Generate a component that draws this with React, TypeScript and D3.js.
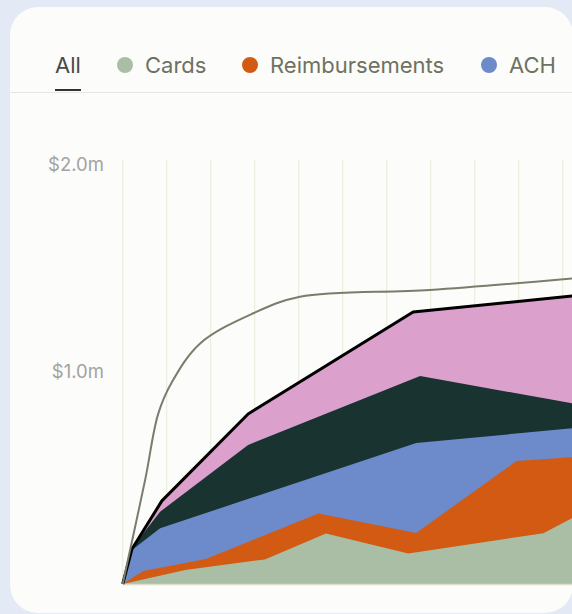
import React from 'react';
import * as d3 from 'd3';

// legend entries visible in the header
const legendNames = ['Cards', 'Reimbursements', 'ACH'];
const legendColors = ['#a9bea4', '#d35a13', '#6d8acb'];

// cumulative tops for each layer, [t, $m]
const cardsTop = [[0, 0], [14.2, 0.066], [32.3, 0.116], [46.2, 0.238], [64.9, 0.144], [95.6, 0.239], [102.1, 0.31], [104, 0.33]];
const reimbTop = [[0, 0], [4.7, 0.061], [18.9, 0.118], [44.5, 0.333], [66.7, 0.241], [89.5, 0.58], [104, 0.6]];
const achTop = [[0, 0], [2.1, 0.16], [8.5, 0.263], [66.7, 0.665], [104, 0.738]];
const billTop = [[0, 0], [2.3, 0.176], [8.5, 0.341], [28.5, 0.656], [67.6, 0.981], [104, 0.845]];
const otherTop = [[0, 0], [2.1, 0.165], [8.9, 0.392], [28.5, 0.802], [66.0, 1.283], [104, 1.362]];
// budget / projection line
const budgetLine = [[0, 0], [5.1, 0.491], [8.1, 0.805], [11.2, 0.953], [17.6, 1.135], [29.7, 1.277], [40.3, 1.355], [69.8, 1.387], [104, 1.445]];

const yTicks = [1, 2];
const gridTicks = d3.range(0, 101, 10);

export default function App() {
  const W = 572, H = 614;
  const x = d3.scaleLinear().domain([0, 100]).range([122.7, 562.7]);
  const y = d3.scaleLinear().domain([0, 2]).range([584, 160]);
  // tick label baselines sit a little off the gridline scale
  const yLabel = d3.scaleLinear().domain([0, 2]).range([585, 171]);

  const area = d3.area<number[]>()
    .x(d => x(d[0]))
    .y0(y(0))
    .y1(d => y(d[1]));
  const line = d3.line<number[]>().x(d => x(d[0])).y(d => y(d[1]));
  const curve = d3.line<number[]>().x(d => x(d[0])).y(d => y(d[1])).curve(d3.curveCatmullRom.alpha(0.5));

  // painted back to front
  const layers = [
    { data: otherTop, color: '#dba1cc' },
    { data: billTop, color: '#183330' },
    { data: achTop, color: '#6d8acb' },
    { data: reimbTop, color: '#d35a13' },
    { data: cardsTop, color: '#a9bea4' },
  ];

  const fmt = (v: number) => '$' + d3.format('.1f')(v) + 'm';

  // legend positions (dot centre x)
  const legendX = [125, 250, 489];

  return (
    <svg width={W} height={H} style={{ position: 'absolute', left: 0, top: 0 }}
      fontFamily="Inter, 'Liberation Sans', sans-serif">
      <defs>
        <clipPath id="card">
          <rect x={10} y={7} width={563} height={606} rx={28} />
        </clipPath>
      </defs>
      <rect width={W} height={H} fill="#e4e9f6" />
      <rect x={10} y={7} width={563} height={606} rx={28} fill="#fcfcfa" />

      <g clipPath="url(#card)">
        {/* header */}
        <text x={55} y={73} fontSize={22} fill="#4a4a46">All</text>
        <rect x={55} y={89} width={26} height={2} fill="#333" />
        {legendNames.map((n, i) => (
          <g key={n}>
            <circle cx={legendX[i]} cy={65} r={8} fill={legendColors[i]} />
            <text x={legendX[i] + 20} y={73} fontSize={22} fill="#6e7262">{n}</text>
          </g>
        ))}
        <rect x={10} y={92} width={563} height={1} fill="#e6e6e2" />

        {/* grid */}
        {gridTicks.map(t => (
          <line key={t} x1={x(t)} x2={x(t)} y1={y(2)} y2={y(0)} stroke="#e8eadb" strokeWidth={1} />
        ))}
        {yTicks.map(t => (
          <text key={t} x={104} y={yLabel(t)} textAnchor="end" fontSize={18.5} fill="#a3a3a0">{fmt(t)}</text>
        ))}

        {layers.map((l, i) => (
          <path key={i} d={area(l.data) || ''} fill={l.color} />
        ))}
        <line x1={x(0)} x2={W} y1={y(0) + 0.5} y2={y(0) + 0.5} stroke="#dedfc9" strokeWidth={1.5} />
        <path d={line(otherTop) || ''} fill="none" stroke="#000" strokeWidth={3} strokeLinejoin="round" />
        <path d={curve(budgetLine) || ''} fill="none" stroke="#7a7c6c" strokeWidth={2} />
      </g>
    </svg>
  );
}
